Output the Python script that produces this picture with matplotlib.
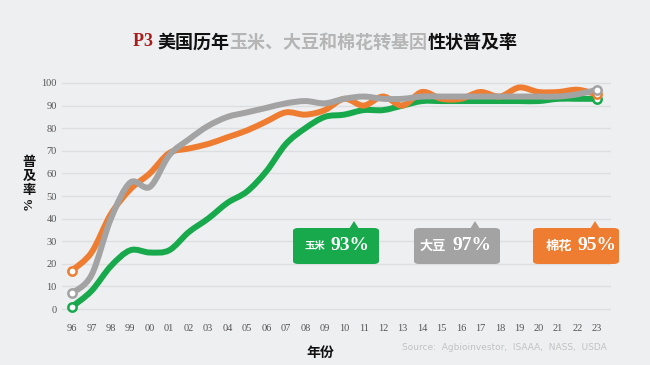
import numpy as np
import matplotlib.pyplot as plt
from matplotlib.path import Path
from matplotlib.patches import PathPatch, FancyBboxPatch, Polygon

# data
years = ['96', '97', '98', '99', '00', '01', '02', '03', '04', '05', '06', '07', '08', '09',
         '10', '11', '12', '13', '14', '15', '16', '17', '18', '19', '20', '21', '22', '23']
corn = [1, 8, 19, 26, 25, 26, 34, 40, 47, 52, 61, 73, 80, 85,
        86, 88, 88, 90, 92, 92, 92, 92, 92, 92, 92, 93, 93, 93]
soy = [7, 15, 40, 56, 54, 68, 75, 81, 85, 87, 89, 91, 92, 91,
       93, 94, 93, 93, 94, 94, 94, 94, 94, 94, 94, 94, 95, 97]
cotton = [17, 25, 42, 53, 60, 69, 71, 73, 76, 79, 83, 87, 86, 88,
          93, 90, 94, 90, 96, 93, 93, 96, 94, 98, 96, 96, 97, 95]

crop_names = ['玉米', '大豆', '棉花']
crop_shares = ['93%', '97%', '95%']

GREEN = '#17a94b'
GRAY = '#a3a3a3'
ORANGE = '#ee7d31'
BG = '#eeeff1'
W, H = 650, 365

plt.rcParams['font.family'] = ['Noto Sans CJK SC', 'DejaVu Sans']

fig = plt.figure(figsize=(W / 100, H / 100), dpi=100)
fig.patch.set_facecolor(BG)
ax = fig.add_axes([62.3 / W, (H - 315.8) / H, 548.3 / W, 239.6 / H])
ax.set_facecolor('none')

x = np.arange(len(years))


def smooth_path(xs, ys):
    # catmull-rom style bezier through the data points
    pts = list(zip(xs, ys))
    n = len(pts)
    verts = [pts[0]]
    codes = [Path.MOVETO]
    for i in range(n - 1):
        p0 = pts[max(i - 1, 0)]
        p1 = pts[i]
        p2 = pts[i + 1]
        p3 = pts[min(i + 2, n - 1)]
        c1 = (p1[0] + (p2[0] - p0[0]) / 6, p1[1] + (p2[1] - p0[1]) / 6)
        c2 = (p2[0] - (p3[0] - p1[0]) / 6, p2[1] - (p3[1] - p1[1]) / 6)
        verts += [c1, c2, p2]
        codes += [Path.CURVE4] * 3
    return Path(verts, codes)


for vals, col in [(corn, GREEN), (cotton, ORANGE), (soy, GRAY)]:
    ax.add_patch(PathPatch(smooth_path(x, vals), fc='none', ec=col, lw=4.3,
                           capstyle='round', joinstyle='round', zorder=3))
    ax.plot([x[0], x[-1]], [vals[0], vals[-1]], 'o', ms=6, mfc='white',
            mec=col, mew=1.8, zorder=5)

ax.set_xlim(-0.5, 27.7)
ax.set_ylim(-3, 103)
ax.set_yticks(range(0, 101, 10))
ax.set_xticks(x)
ax.set_xticklabels(years)
ax.grid(axis='y', color='#dddee0', lw=1)
ax.set_axisbelow(True)
ax.tick_params(length=0, labelsize=7.5, labelcolor='#555555')
ax.tick_params(axis='x', pad=6)
ax.tick_params(axis='y', pad=4)
for lab in ax.get_xticklabels() + ax.get_yticklabels():
    lab.set_family('Liberation Serif')
for s in ax.spines.values():
    s.set_visible(False)


def fx(px):
    return px / W


def fy(py):
    return (H - py) / H


# title in several colours
pieces = [('P3 ', '#a81c1c', ['Liberation Serif', 'Noto Sans CJK SC']),
          ('美国历年', '#111111', ['Noto Sans CJK SC']),
          ('玉米、大豆和棉花转基因', '#b5b5b5', ['Noto Sans CJK SC']),
          ('性状普及率', '#111111', ['Noto Sans CJK SC'])]
texts = [fig.text(0, fy(42), s, color=c, family=fam, fontsize=13, fontweight='bold',
                  va='center') for s, c, fam in pieces]
fig.canvas.draw()
r = fig.canvas.get_renderer()
widths = [t.get_window_extent(r).width for t in texts]
start = 325 - sum(widths) / 2
for t, w in zip(texts, widths):
    t.set_x(fx(start))
    start += w

# y label
fig.text(fx(29), fy(176), '普\n及\n率', ha='center', va='center', fontsize=9.5,
         fontweight='bold', linespacing=1.0, color='#111111')
fig.text(fx(29), fy(203), '%', ha='center', va='center', fontsize=9.5, rotation=90,
         fontweight='bold', color='#111111', family='Liberation Serif')

fig.text(fx(320), fy(353), '年份', ha='center', va='center', fontsize=10,
         fontweight='bold', color='#111111')
fig.text(fx(607), fy(348), 'Source:  Agbioinvestor,  ISAAA,  NASS,  USDA', ha='right',
         va='center', fontsize=6.5, color='#c2c2c2',
         family=['Liberation Sans Narrow', 'DejaVu Sans'])

# callout boxes: left edge, colour, pointer x, name size, name offset, share offset
boxes = [(293, GREEN, 354, 7.5, 22, 57), (414, GRAY, 475, 9.5, 19, 58),
         (533, ORANGE, 595, 9.5, 26, 64)]
for (left, col, tip, nsize, noff, soff), name, share in zip(boxes, crop_names, crop_shares):
    fig.patches.append(FancyBboxPatch((fx(left), fy(264)), fx(86), 36 / H,
                                      boxstyle='round,pad=0,rounding_size=0.008',
                                      transform=fig.transFigure, fc=col, ec='none'))
    fig.patches.append(Polygon([(fx(tip - 5), fy(229)), (fx(tip), fy(221)),
                                (fx(tip + 5), fy(229))], closed=True,
                               transform=fig.transFigure, fc=col, ec='none'))
    fig.text(fx(left + noff), fy(246), name, ha='center', va='center', fontsize=nsize,
             fontweight='bold', color='white')
    fig.text(fx(left + soff), fy(246), share, ha='center', va='center', fontsize=14,
             fontweight='bold', color='white', family='Liberation Serif')

fig.savefig('out.png', dpi=100, facecolor=BG)
